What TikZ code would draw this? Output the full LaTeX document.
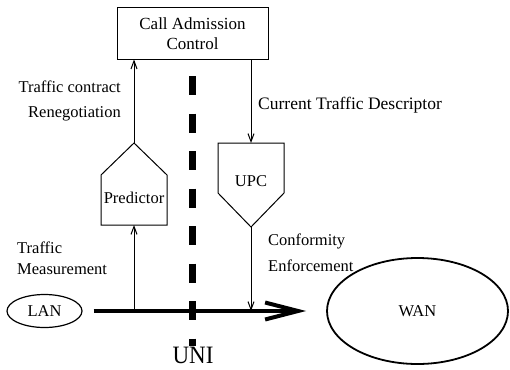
\documentclass[tikz,border=0pt]{standalone}
\usepackage{fontspec}
\setmainfont{Liberation Serif}
\usetikzlibrary{arrows.meta,shapes.geometric}
\begin{document}
\begin{tikzpicture}[x=1pt,y=-1pt,
  txt/.style={font=\fontsize{16.5}{20}\selectfont, inner sep=0pt},
  thin/.style={line width=1pt},
  flow/.style={line width=1pt, -{Straight Barb[length=8pt,width=6pt]}},
  mainarrow/.style={line width=4pt, -{Straight Barb[length=33pt,width=17pt,line width=4pt]}},
  uniline/.style={line width=7pt, dash pattern=on 19pt off 18.5pt},
]
\useasboundingbox (0,0) rectangle (510,369);
\fill[white] (0,0) rectangle (510,369);

% Call Admission Control
\node[draw, thin, minimum width=151pt, minimum height=51pt, align=center,
      font=\fontsize{17}{20}\selectfont] (cac) at (192.5,33.5) {Call Admission\\Control};

% Predictor (pentagon pointing up)
\coordinate (predtop) at (134,143);
\coordinate (predbot) at (134,225);
\draw[thin] (predtop) -- (167,175) -- (167,225) -- (101,225) -- (101,175) -- cycle;
\node[txt] (pred) at (134,198) {Predictor};

% UPC (pentagon pointing down)
\coordinate (upctop) at (251,143);
\coordinate (upcbot) at (251,227);
\draw[thin] (218,143) -- (284,143) -- (284,193) -- (upcbot) -- (218,193) -- cycle;
\node[txt] (upc) at (251,181) {UPC};

% LAN / WAN
\node[draw, line width=1.2pt, ellipse, minimum width=75pt, minimum height=33pt, inner sep=0pt,
      font=\fontsize{16.5}{20}\selectfont] (lan) at (44.5,311) {LAN};
\node[draw, line width=1.8pt, ellipse, minimum width=181pt, minimum height=106pt, inner sep=0pt,
      font=\fontsize{16.5}{20}\selectfont] (wan) at (417.5,311) {WAN};

% UNI dashed line
\coordinate (unitop) at (192.5,76);
\coordinate (unibot) at (192.5,346);
\draw[uniline] (unitop) -- (unibot);
\node[inner sep=0pt, font=\fontsize{25}{25}\selectfont, xscale=0.92] (uni) at (193,355) {UNI};

% main data flow
\draw[mainarrow, shorten <=11pt, shorten >=20pt] (lan.east) -- (lan.east -| wan.west);

% connectors
\draw[flow] (predtop) -- (predtop |- cac.south);
\draw[flow] (upctop |- cac.south) -- (upctop);
\draw[flow] (predbot |- lan.east) -- (predbot);
\draw[flow] (upcbot) -- (upcbot |- lan.east);

% labels
\node[txt, anchor=east, align=right, font=\fontsize{16.5}{25}\selectfont] (lbl1) at (121,100.5) {Traffic contract\\Renegotiation};
\node[txt, anchor=west, font=\fontsize{17.5}{20}\selectfont] (lbl2) at (258,105) {Current Traffic Descriptor};
\node[txt, anchor=west, align=left, font=\fontsize{16.5}{21}\selectfont] (lbl3) at (17,258.5) {Traffic\\Measurement};
\node[txt, anchor=west, align=left, font=\fontsize{16.5}{26}\selectfont] (lbl4) at (268,253) {Conformity\\Enforcement};
\end{tikzpicture}
\end{document}
